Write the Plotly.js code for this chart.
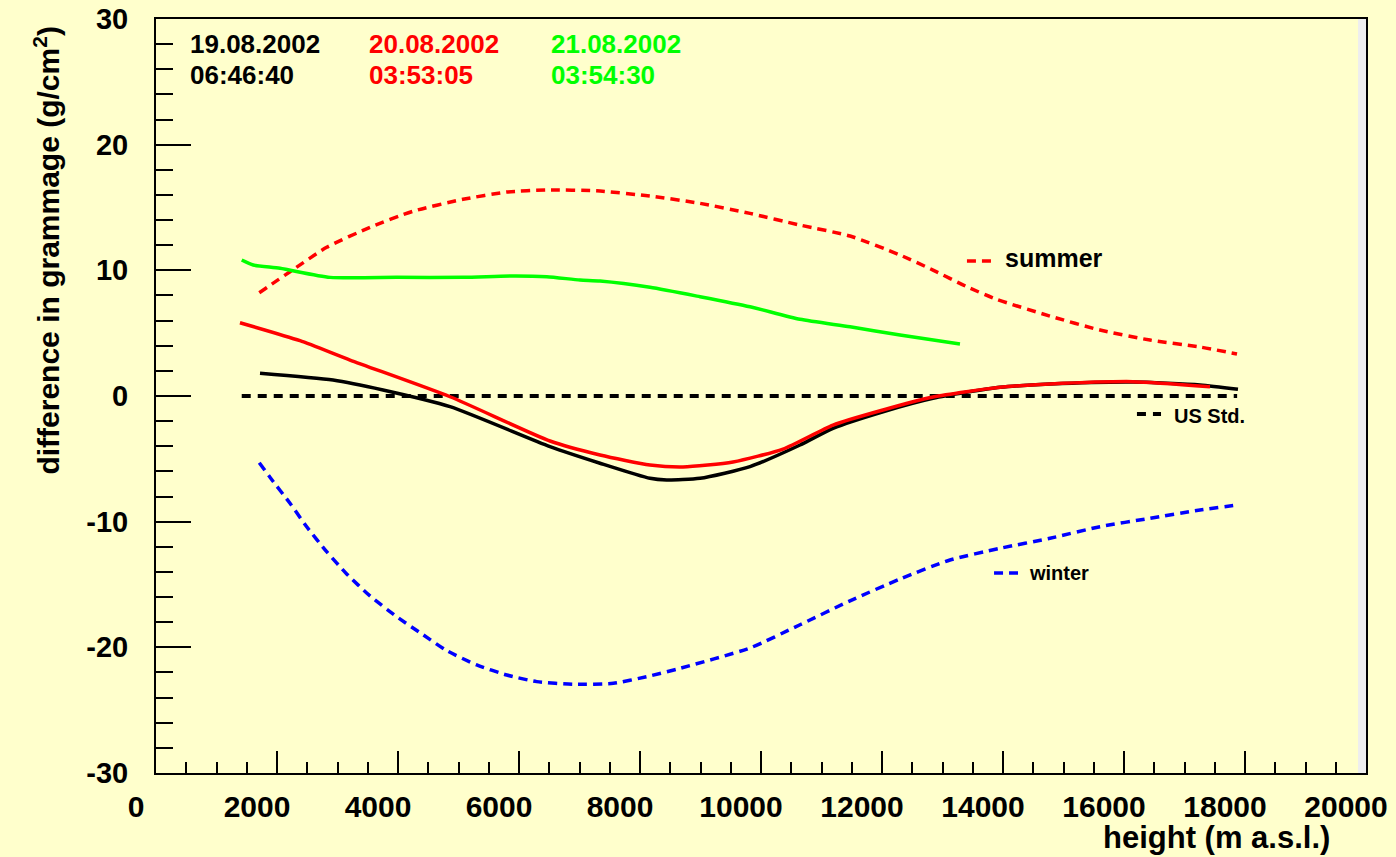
<!DOCTYPE html>
<html>
<head>
<meta charset="utf-8">
<script src="https://cdn.plot.ly/plotly-3.0.1.min.js"></script>
<style>html,body{margin:0;padding:0;background:#FFFFCC;}#chart{width:1396px;height:857px;}</style>
</head>
<body>
<div id="chart"></div>
<script>
// ---- data (height in m a.s.l., difference in g/cm^2) ----
const summerX = [1707, 2215, 2821, 3537, 4248, 5074, 5797, 6458, 7284, 8165, 8992, 9818, 10645, 11471, 12298, 12843, 13400, 13896, 14777, 15603, 16430, 17256, 17868];
const summerY = [8.22, 9.89, 11.83, 13.42, 14.70, 15.65, 16.23, 16.39, 16.33, 15.91, 15.33, 14.53, 13.60, 12.73, 11.22, 10.02, 8.70, 7.69, 6.36, 5.25, 4.45, 3.90, 3.34];

const winterX = [1707, 1884, 2215, 2491, 2821, 3152, 3537, 3978, 4418, 4805, 5301, 5797, 6293, 6898, 7559, 8111, 8607, 9818, 10645, 11471, 12298, 13124, 13950, 14777, 15603, 16430, 17256, 17884];
const winterY = [-5.31, -6.47, -8.54, -10.40, -12.39, -14.16, -15.91, -17.56, -19.01, -20.26, -21.40, -22.20, -22.73, -22.94, -22.86, -22.33, -21.74, -20.05, -18.20, -16.30, -14.56, -13.05, -12.12, -11.32, -10.40, -9.73, -9.07, -8.67];

const usStdX = [1417, 17870];
const usStdY = [0, 0];

const day19X = [1719, 2926, 3752, 4860, 6512, 7339, 8165, 8441, 8992, 9818, 10645, 11190, 12017, 12843, 13950, 14777, 16149, 17256, 17884];
const day19Y = [1.81, 1.27, 0.48, -0.85, -4.03, -5.35, -6.55, -6.68, -6.55, -5.62, -3.90, -2.57, -1.25, -0.18, 0.69, 0.95, 1.11, 0.88, 0.53];

const day20X = [1388, 2380, 3207, 4860, 6512, 7339, 8165, 8711, 9537, 10364, 11190, 12017, 12843, 13950, 14777, 16149, 17421];
const day20Y = [5.83, 4.40, 2.86, -0.06, -3.58, -4.69, -5.49, -5.65, -5.25, -4.22, -2.31, -1.11, -0.08, 0.69, 0.95, 1.14, 0.74];

const day21X = [1417, 1608, 2050, 2876, 3979, 5079, 5906, 6458, 7008, 7339, 8165, 8992, 9818, 10645, 11471, 12298, 13289];
const day21Y = [10.82, 10.42, 10.16, 9.44, 9.44, 9.44, 9.55, 9.49, 9.23, 9.15, 8.65, 7.90, 7.10, 6.10, 5.51, 4.85, 4.14];

const xTicks = [0, 2000, 4000, 6000, 8000, 10000, 12000, 14000, 16000, 18000, 20000];
const yTicks = [-30, -20, -10, 0, 10, 20, 30];

const dateLabels = ["19.08.2002", "20.08.2002", "21.08.2002"];
const timeLabels = ["06:46:40", "03:53:05", "03:54:30"];
const dateColors = ["#000000", "#FF0000", "#00FF00"];

// ---- drawing ----
const FONT = "Liberation Sans, Arial, Helvetica, sans-serif";
const BG = "#FFFFCC";

const traces = [
  {x: summerX, y: summerY, mode: "lines", line: {color: "#FF0000", width: 3.5, dash: "9px,6px", shape: "spline", smoothing: 0.6}},
  {x: winterX, y: winterY, mode: "lines", line: {color: "#0000FF", width: 3.5, dash: "9px,6px", shape: "spline", smoothing: 0.6}},
  {x: usStdX, y: usStdY, mode: "lines", line: {color: "#000000", width: 4, dash: "9px,7px"}},
  {x: day21X, y: day21Y, mode: "lines", line: {color: "#00FF00", width: 3.5, shape: "spline", smoothing: 0.6}},
  {x: day19X, y: day19Y, mode: "lines", line: {color: "#000000", width: 3.5, shape: "spline", smoothing: 0.6}},
  {x: day20X, y: day20Y, mode: "lines", line: {color: "#FF0000", width: 3.5, shape: "spline", smoothing: 0.6}}
];

const annotations = [];
const dateX = [0.0265, 0.1744, 0.3248];
for (let i = 0; i < dateLabels.length; i++) {
  annotations.push({xref: "paper", yref: "paper", x: dateX[i], y: 0.9668, xanchor: "left", yanchor: "middle",
    text: dateLabels[i], showarrow: false, font: {family: FONT, size: 26, weight: "bold", color: dateColors[i]}});
  annotations.push({xref: "paper", yref: "paper", x: dateX[i], y: 0.9257, xanchor: "left", yanchor: "middle",
    text: timeLabels[i], showarrow: false, font: {family: FONT, size: 26, weight: "bold", color: dateColors[i]}});
}
annotations.push({xref: "paper", yref: "paper", x: 0.700, y: 0.683, xanchor: "left", yanchor: "middle",
  text: "summer", showarrow: false, font: {family: FONT, size: 25, weight: "bold", color: "#000"}});
annotations.push({xref: "paper", yref: "paper", x: 0.8397, y: 0.4735, xanchor: "left", yanchor: "middle",
  text: "US Std.", showarrow: false, font: {family: FONT, size: 20, weight: "bold", color: "#000"}});
annotations.push({xref: "paper", yref: "paper", x: 0.7198, y: 0.2653, xanchor: "left", yanchor: "middle",
  text: "winter", showarrow: false, font: {family: FONT, size: 20, weight: "bold", color: "#000"}});
annotations.push({xref: "paper", yref: "paper", x: 0.972, y: -0.086, xanchor: "right", yanchor: "middle",
  text: "height (m a.s.l.)", showarrow: false, font: {family: FONT, size: 31, weight: "bold", color: "#000"}});
annotations.push({xref: "paper", yref: "paper", x: -0.0900, y: 0.693, xanchor: "center", yanchor: "middle", textangle: -90,
  text: "difference in grammage (g/cm<sup>2</sup>)", showarrow: false, font: {family: FONT, size: 30, weight: "bold", color: "#000"}});

const shapes = [
  {type: "rect", xref: "paper", yref: "paper", x0: 0.9934, x1: 1, y0: 0, y1: 1, fillcolor: "#EEEEEE", line: {width: 0}, layer: "below"},
  {type: "line", xref: "paper", yref: "paper", x0: 0.6702, x1: 0.6909, y0: 0.679, y1: 0.679, line: {color: "#FF0000", width: 3.5, dash: "9px,6px"}},
  {type: "line", xref: "paper", yref: "paper", x0: 0.8107, x1: 0.8306, y0: 0.4761, y1: 0.4761, line: {color: "#000000", width: 4, dash: "9px,7px"}},
  {type: "line", xref: "paper", yref: "paper", x0: 0.6926, x1: 0.7124, y0: 0.2653, y1: 0.2653, line: {color: "#0000FF", width: 3.5, dash: "9px,6px"}}
];

const layout = {
  width: 1396, height: 857,
  paper_bgcolor: BG, plot_bgcolor: BG,
  margin: {l: 156, r: 30, t: 19, b: 84},
  showlegend: false,
  font: {family: FONT, color: "#000"},
  xaxis: {
    range: [0, 20000], tickvals: xTicks, ticktext: xTicks.map(String),
    showgrid: false, zeroline: false, showline: true, linecolor: "#000", linewidth: 2, mirror: true,
    ticks: "inside", ticklen: 22, tickwidth: 2, tickcolor: "#000",
    minor: {dtick: 500, ticks: "inside", ticklen: 11, tickwidth: 2, tickcolor: "#000", showgrid: false},
    tickfont: {family: FONT, size: 30, weight: "bold", color: "#000"},
    ticklabelshift: -20, ticklabelstandoff: 6
  },
  yaxis: {
    range: [-30, 30], tickvals: yTicks, ticktext: yTicks.map(String),
    showgrid: false, zeroline: false, showline: true, linecolor: "#000", linewidth: 2, mirror: true,
    ticks: "inside", ticklen: 35, tickwidth: 2, tickcolor: "#000",
    minor: {dtick: 2, ticks: "inside", ticklen: 17, tickwidth: 2, tickcolor: "#000", showgrid: false},
    tickfont: {family: FONT, size: 29, weight: "bold", color: "#000"},
    ticklabelstandoff: 20
  },
  annotations: annotations,
  shapes: shapes
};

Plotly.newPlot("chart", traces, layout, {displayModeBar: false, staticPlot: true});
</script>
</body>
</html>
